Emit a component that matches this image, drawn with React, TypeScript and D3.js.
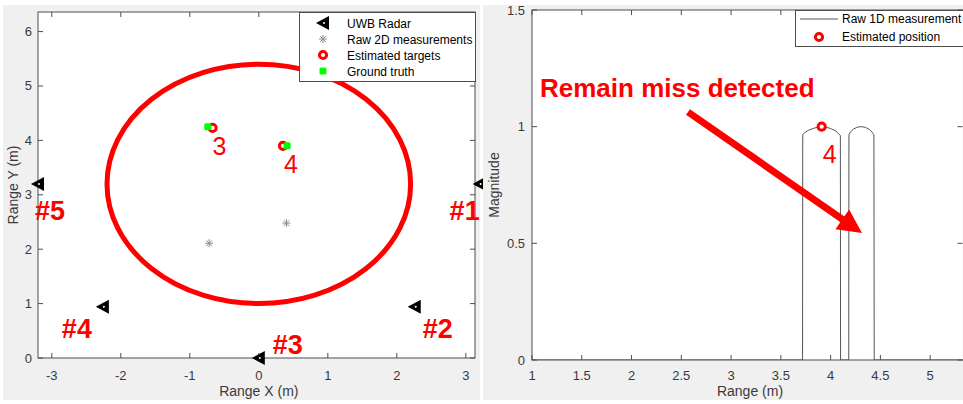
import React from "react";
import * as d3 from "d3";

// ---- Left panel: 2D localisation ----
const radarX = [3.2, 2.26, 0, -2.26, -3.2];
const radarY = [3.2, 0.94, 0, 0.94, 3.2];
const radarLabels = ["#1", "#2", "#3", "#4", "#5"];

const raw2dX = [-0.72, 0.4];
const raw2dY = [2.11, 2.48];

const estX = [-0.67, 0.35];
const estY = [4.23, 3.9];
const estLabels = ["3", "4"];

const truthX = [-0.74, 0.41];
const truthY = [4.25, 3.9];

// Coverage circle: centre and radius (m)
const coverCenter = [0, 3.2];
const coverRadius = 2.2;

const leftXTicks = [-3, -2, -1, 0, 1, 2, 3];
const leftYTicks = [0, 1, 2, 3, 4, 5, 6];

// ---- Right panel: 1D range profile ----
const rangeM = [
  1, 3.718, 3.72, 3.74, 3.78, 3.83, 3.88, 3.91, 3.95, 4.0, 4.05, 4.08, 4.098, 4.1,
  4.182, 4.184, 4.2, 4.23, 4.27, 4.31, 4.35, 4.39, 4.42, 4.435, 4.438, 5.4,
];
const magnitude = [
  0, 0, 0.965, 0.975, 0.985, 0.993, 0.999, 1.0, 0.998, 0.992, 0.982, 0.97, 0.962, 0,
  0, 0.965, 0.978, 0.99, 0.998, 1.0, 0.997, 0.988, 0.975, 0.965, 0, 0,
];

const estRange = [3.91];
const estMag = [1.0];
const estRangeLabels = ["4"];

const rightXTicks = [1, 1.5, 2, 2.5, 3, 3.5, 4, 4.5, 5];
const rightYTicks = [0, 0.5, 1, 1.5];

const FONT = "'Liberation Sans', Arial, Helvetica, sans-serif";
const AXIS = "#4d4d4d";
const TICKTXT = "#3a3a3a";

function RadarMarker({ cx, cy }: { cx: number; cy: number }) {
  return (
    <g>
      <path d={`M${cx - 7},${cy} L${cx + 6},${cy - 7} L${cx + 6},${cy + 7} Z`} fill="#000" />
      <circle cx={cx + 1} cy={cy} r={1} fill="#fff" />
    </g>
  );
}

function Asterisk({ cx, cy }: { cx: number; cy: number }) {
  const r = 4;
  const d = r * 0.7;
  return (
    <g stroke="#8c8c8c" strokeWidth={1}>
      <line x1={cx - r} y1={cy} x2={cx + r} y2={cy} />
      <line x1={cx} y1={cy - r} x2={cx} y2={cy + r} />
      <line x1={cx - d} y1={cy - d} x2={cx + d} y2={cy + d} />
      <line x1={cx - d} y1={cy + d} x2={cx + d} y2={cy - d} />
    </g>
  );
}

function EstCircle({ cx, cy }: { cx: number; cy: number }) {
  return <circle cx={cx} cy={cy} r={3.6} fill="#fff" stroke="#ff0000" strokeWidth={3} />;
}

function TruthSquare({ cx, cy }: { cx: number; cy: number }) {
  return <rect x={cx - 3.5} y={cy - 3.5} width={7} height={7} rx={1.5} fill="#00ff00" />;
}

function LeftPanel() {
  const L = { left: 38, right: 475, top: 12, bottom: 358 };
  const x = d3.scaleLinear().domain([-3.2, 3.133]).range([L.left, L.right]);
  const y = d3.scaleLinear().domain([0, 6.36]).range([L.bottom, L.top]);
  const tl = 5;
  const radarLabelOffsets = [
    [-30, 36],
    [8, 31],
    [14, -4],
    [-41, 31],
    [-3, 36],
  ];
  const estLabelOffsets = [
    [0, 27],
    [1, 27],
  ];
  const legendItems = ["UWB Radar", "Raw 2D measurements", "Estimated targets", "Ground truth"];
  return (
    <g>
      <defs>
        <clipPath id="leftPanelClip">
          <rect x={0} y={0} width={483} height={404} />
        </clipPath>
      </defs>
      <g clipPath="url(#leftPanelClip)">
        <rect x={L.left} y={L.top} width={L.right - L.left} height={L.bottom - L.top} fill="#fff" />
        {/* ticks on all four sides */}
        {leftXTicks.map((t) => (
          <g key={"xt" + t}>
            <line x1={x(t)} x2={x(t)} y1={L.bottom} y2={L.bottom - tl} stroke={AXIS} />
            <line x1={x(t)} x2={x(t)} y1={L.top} y2={L.top + tl} stroke={AXIS} />
            <text x={x(t)} y={380} textAnchor="middle" fontSize={13} fontFamily={FONT} fill={TICKTXT}>
              {t}
            </text>
          </g>
        ))}
        {leftYTicks.map((t) => (
          <g key={"yt" + t}>
            <line x1={L.left} x2={L.left + tl} y1={y(t)} y2={y(t)} stroke={AXIS} />
            <line x1={L.right} x2={L.right - tl} y1={y(t)} y2={y(t)} stroke={AXIS} />
            <text x={32} y={y(t) + 4.5} textAnchor="end" fontSize={13} fontFamily={FONT} fill={TICKTXT}>
              {t}
            </text>
          </g>
        ))}
        <rect x={L.left} y={L.top} width={L.right - L.left} height={L.bottom - L.top} fill="none" stroke={AXIS} />
        <text x={x(0)} y={396} textAnchor="middle" fontSize={14} fontFamily={FONT} fill={TICKTXT}>
          Range X (m)
        </text>
        <text
          transform={`translate(18,${(L.top + L.bottom) / 2}) rotate(-90)`}
          textAnchor="middle"
          fontSize={14}
          fontFamily={FONT}
          fill={TICKTXT}
        >
          Range Y (m)
        </text>

        {/* coverage circle */}
        <ellipse
          cx={x(coverCenter[0])}
          cy={y(coverCenter[1])}
          rx={x(coverRadius) - x(0)}
          ry={y(0) - y(coverRadius)}
          fill="none"
          stroke="#ff0000"
          strokeWidth={5}
        />

        {raw2dX.map((v, i) => (
          <Asterisk key={"r" + i} cx={x(v)} cy={y(raw2dY[i])} />
        ))}
        {estX.map((v, i) => (
          <EstCircle key={"e" + i} cx={x(v)} cy={y(estY[i])} />
        ))}
        {truthX.map((v, i) => (
          <TruthSquare key={"g" + i} cx={x(v)} cy={y(truthY[i])} />
        ))}
        {estX.map((v, i) => (
          <text
            key={"el" + i}
            x={x(v) + estLabelOffsets[i][0]}
            y={y(estY[i]) + estLabelOffsets[i][1]}
            fontSize={25}
            fontFamily={FONT}
            fill="#ff0000"
          >
            {estLabels[i]}
          </text>
        ))}

        {radarX.map((v, i) => (
          <RadarMarker key={"m" + i} cx={x(v)} cy={y(radarY[i])} />
        ))}
        {radarX.map((v, i) => (
          <text
            key={"ml" + i}
            x={x(v) + radarLabelOffsets[i][0]}
            y={y(radarY[i]) + radarLabelOffsets[i][1]}
            fontSize={27}
            fontWeight="bold"
            fontFamily={FONT}
            fill="#ff0000"
          >
            {radarLabels[i]}
          </text>
        ))}

        {/* legend */}
        <rect x={299.5} y={12.5} width={176} height={69} fill="#fff" stroke={AXIS} />
        {legendItems.map((s, i) => {
          const ly = 23 + i * 16;
          return (
            <g key={"lg" + i}>
              {i === 0 && <RadarMarker cx={323} cy={ly} />}
              {i === 1 && <Asterisk cx={323} cy={ly} />}
              {i === 2 && <EstCircle cx={323} cy={ly} />}
              {i === 3 && <TruthSquare cx={323} cy={ly} />}
              <text x={347} y={ly + 4.5} fontSize={12} fontFamily={FONT} fill="#000">
                {s}
              </text>
            </g>
          );
        })}
      </g>
    </g>
  );
}

function RightPanel() {
  const R = { left: 532, right: 962.5, top: 10, bottom: 360 };
  const x = d3.scaleLinear().domain([1, 5.33]).range([R.left, 963]);
  const y = d3.scaleLinear().domain([0, 1.5]).range([R.bottom, R.top]);
  const tl = 5;
  const pts = rangeM.map((r, i) => [r, magnitude[i]] as [number, number]);
  const line = d3
    .line<[number, number]>()
    .x((d) => x(d[0]))
    .y((d) => y(d[1]));

  // annotation arrow
  const a0 = [688, 112];
  const tip = [862, 233];
  const dx = tip[0] - a0[0];
  const dy = tip[1] - a0[1];
  const len = Math.hypot(dx, dy);
  const ux = dx / len;
  const uy = dy / len;
  const headL = 24;
  const headW = 12;
  const bx = tip[0] - ux * headL;
  const by = tip[1] - uy * headL;

  return (
    <g>
      <defs>
        <clipPath id="rightAxesClip">
          <rect x={R.left} y={R.top} width={R.right - R.left} height={R.bottom - R.top} />
        </clipPath>
      </defs>
      <rect x={R.left} y={R.top} width={R.right - R.left} height={R.bottom - R.top} fill="#fff" />
      {rightXTicks.map((t) => (
        <g key={"xt" + t}>
          <line x1={x(t)} x2={x(t)} y1={R.bottom} y2={R.bottom - tl} stroke={AXIS} />
          <line x1={x(t)} x2={x(t)} y1={R.top} y2={R.top + tl} stroke={AXIS} />
          <text x={x(t)} y={380} textAnchor="middle" fontSize={13} fontFamily={FONT} fill={TICKTXT}>
            {t}
          </text>
        </g>
      ))}
      {rightYTicks.map((t) => (
        <g key={"yt" + t}>
          <line x1={R.left} x2={R.left + tl} y1={y(t)} y2={y(t)} stroke={AXIS} />
          <line x1={R.right} x2={R.right - tl} y1={y(t)} y2={y(t)} stroke={AXIS} />
          <text x={525} y={y(t) + 4.5} textAnchor="end" fontSize={13} fontFamily={FONT} fill={TICKTXT}>
            {t}
          </text>
        </g>
      ))}
      <rect x={R.left} y={R.top} width={R.right - R.left + 5} height={R.bottom - R.top} fill="none" stroke={AXIS} />
      <text x={750} y={396} textAnchor="middle" fontSize={14} fontFamily={FONT} fill={TICKTXT}>
        Range (m)
      </text>
      <text
        transform={`translate(499,${(R.top + R.bottom) / 2}) rotate(-90)`}
        textAnchor="middle"
        fontSize={14}
        fontFamily={FONT}
        fill={TICKTXT}
      >
        Magnitude
      </text>

      <g clipPath="url(#rightAxesClip)">
        <path d={line(pts) || ""} fill="none" stroke="#555" strokeWidth={1} />
      </g>
      {estRange.map((r, i) => (
        <g key={"ep" + i}>
          <EstCircle cx={x(r)} cy={y(estMag[i])} />
          <text x={x(r) + 1} y={y(estMag[i]) + 36} fontSize={25} fontFamily={FONT} fill="#ff0000">
            {estRangeLabels[i]}
          </text>
        </g>
      ))}

      <text x={540} y={97} fontSize={26} fontWeight="bold" fontFamily={FONT} fill="#ff0000">
        Remain miss detected
      </text>
      <line x1={a0[0]} y1={a0[1]} x2={bx + ux * 2} y2={by + uy * 2} stroke="#ff0000" strokeWidth={7} />
      <path
        d={`M${tip[0]},${tip[1]} L${bx - uy * headW},${by + ux * headW} L${bx + uy * headW},${by - ux * headW} Z`}
        fill="#ff0000"
      />

      {/* legend */}
      <rect x={795.5} y={10.5} width={175} height={36} fill="#fff" stroke={AXIS} />
      <line x1={800} x2={838} y1={19} y2={19} stroke="#555" />
      <text x={842} y={23} fontSize={12} fontFamily={FONT} fill="#000">
        Raw 1D measurement
      </text>
      <EstCircle cx={819} cy={37} />
      <text x={842} y={41} fontSize={12} fontFamily={FONT} fill="#000">
        Estimated position
      </text>
    </g>
  );
}

export default function App() {
  return (
    <svg
      width={963}
      height={404}
      style={{ position: "absolute", left: 0, top: 0, display: "block", background: "#fff" }}
    >
      <rect x={3} y={5} width={477} height={395} fill="#f0f0f0" />
      <rect x={483} y={5} width={480} height={395} fill="#f0f0f0" />
      <LeftPanel />
      <RightPanel />
    </svg>
  );
}
